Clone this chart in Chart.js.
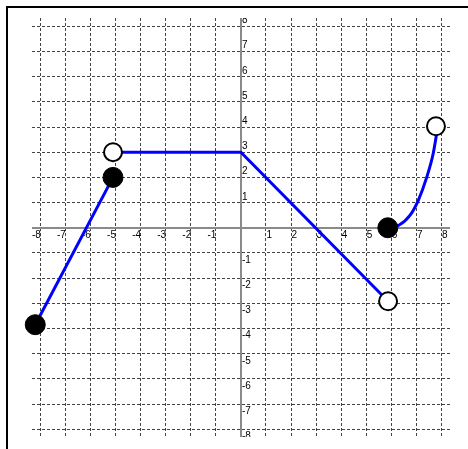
<!DOCTYPE html>
<html>
<head>
<meta charset="utf-8">
<script src="https://cdn.jsdelivr.net/npm/chart.js@4.4.1/dist/chart.umd.min.js"></script>
<style>
  html, body { margin: 0; padding: 0; background: #fff; }
  #wrap { position: relative; width: 468px; height: 449px; overflow: hidden; }
  #frame { position: absolute; left: 6px; top: 6px; width: 470px; height: 460px;
           border-left: 2px solid #000; border-top: 2px solid #000; }
  #c { position: absolute; left: 0; top: 0; }
</style>
</head>
<body>
<div id="wrap">
  <div id="frame"></div>
  <canvas id="c" width="468" height="449"></canvas>
</div>
<script>
// ---- data ----
const tickValues = [-8, -7, -6, -5, -4, -3, -2, -1, 0, 1, 2, 3, 4, 5, 6, 7, 8];
const tickLabels = ["-8", "-7", "-6", "-5", "-4", "-3", "-2", "-1", "0", "1", "2", "3", "4", "5", "6", "7", "8"];

const pieceA = [ {x: -8.2, y: -3.85}, {x: -5.1, y: 2} ];
const pieceB = [ {x: -5.1, y: 3}, {x: 0, y: 3}, {x: 5.87, y: -2.92} ];
const pieceC = [ {x: 5.86, y: 0}, {x: 6.3, y: 0.1}, {x: 6.75, y: 0.5}, {x: 7.08, y: 1.1},
                 {x: 7.41, y: 2.0}, {x: 7.67, y: 2.95}, {x: 7.85, y: 4.0} ];
const filledPoints = [ {x: -8.2, y: -3.85}, {x: -5.1, y: 2}, {x: 5.86, y: 0} ];
const openPoints   = [ {x: -5.1, y: 3}, {x: 5.87, y: -2.92}, {x: 7.78, y: 4.03} ];

const xRange = [-8.33, 8.34];
const yRange = [-8.31, 8.33];

// ---- plugin: axes through origin and tick labels ----
const axesPlugin = {
  id: 'axesAtOrigin',
  beforeDatasetsDraw(chart) {
    const {ctx, chartArea: a, scales: {x, y}} = chart;
    const x0 = Math.round(x.getPixelForValue(0));
    const y0 = Math.round(y.getPixelForValue(0));
    ctx.save();
    ctx.strokeStyle = '#8a8a8a';
    ctx.lineWidth = 2;
    ctx.beginPath();
    ctx.moveTo(a.left, y0); ctx.lineTo(a.right, y0);
    ctx.moveTo(x0, a.top); ctx.lineTo(x0, a.bottom);
    ctx.stroke();

    ctx.beginPath();
    ctx.rect(a.left, a.top, a.right - a.left, a.bottom - a.top);
    ctx.clip();
    ctx.fillStyle = '#000';
    ctx.font = '10px "Liberation Sans", Arial, sans-serif';
    ctx.textBaseline = 'alphabetic';
    tickValues.forEach((v, i) => {
      if (v === 0) return;
      const gx = x.getPixelForValue(v);
      if (v > 0) { ctx.textAlign = 'left'; ctx.fillText(tickLabels[i], gx + 0.5, y0 + 10); }
      else { ctx.textAlign = 'right'; ctx.fillText(tickLabels[i], gx + 0.5, y0 + 10); }
      const gy = y.getPixelForValue(v);
      ctx.textAlign = 'left';
      if (v > 0) ctx.fillText(tickLabels[i], x0 + 1, gy - 3);
      else ctx.fillText(tickLabels[i], x0 + 1, gy + 10);
    });
    ctx.restore();
  }
};

function integerTicks(scale) {
  scale.ticks = tickValues.map(v => ({ value: v }));
}
const gridColor = (c) => (c.tick && c.tick.value === 0) ? 'rgba(0,0,0,0)' : '#444';

const blue = '#0000ff';
new Chart(document.getElementById('c'), {
  type: 'scatter',
  data: {
    datasets: [
      { data: pieceA, order: 2, showLine: true, borderColor: blue, borderWidth: 3, pointRadius: 0, tension: 0 },
      { data: pieceB, order: 2, showLine: true, borderColor: blue, borderWidth: 3, pointRadius: 0, tension: 0 },
      { data: pieceC, order: 2, showLine: true, borderColor: blue, borderWidth: 3, pointRadius: 0,
        cubicInterpolationMode: 'monotone' },
      { data: filledPoints, order: 1, showLine: false, pointRadius: 10, pointBackgroundColor: '#000',
        pointBorderColor: '#000', pointBorderWidth: 1, clip: false },
      { data: openPoints, order: 0, showLine: false, pointRadius: 9, pointBackgroundColor: '#fff',
        pointBorderColor: '#000', pointBorderWidth: 2, clip: false }
    ]
  },
  options: {
    responsive: false,
    animation: false,
    events: [],
    layout: { padding: { left: 32, top: 18, right: 18, bottom: 12 } },
    plugins: { legend: { display: false }, tooltip: { enabled: false } },
    scales: {
      x: {
        type: 'linear', min: xRange[0], max: xRange[1],
        afterBuildTicks: integerTicks,
        afterFit(s) { s.height = 0; },
        ticks: { display: false },
        grid: { color: gridColor, lineWidth: 1, drawTicks: false },
        border: { display: false, dash: [3, 2] }
      },
      y: {
        type: 'linear', min: yRange[0], max: yRange[1],
        afterBuildTicks: integerTicks,
        afterFit(s) { s.width = 0; },
        ticks: { display: false },
        grid: { color: gridColor, lineWidth: 1, drawTicks: false },
        border: { display: false, dash: [3, 2] }
      }
    }
  },
  plugins: [axesPlugin]
});
</script>
</body>
</html>
